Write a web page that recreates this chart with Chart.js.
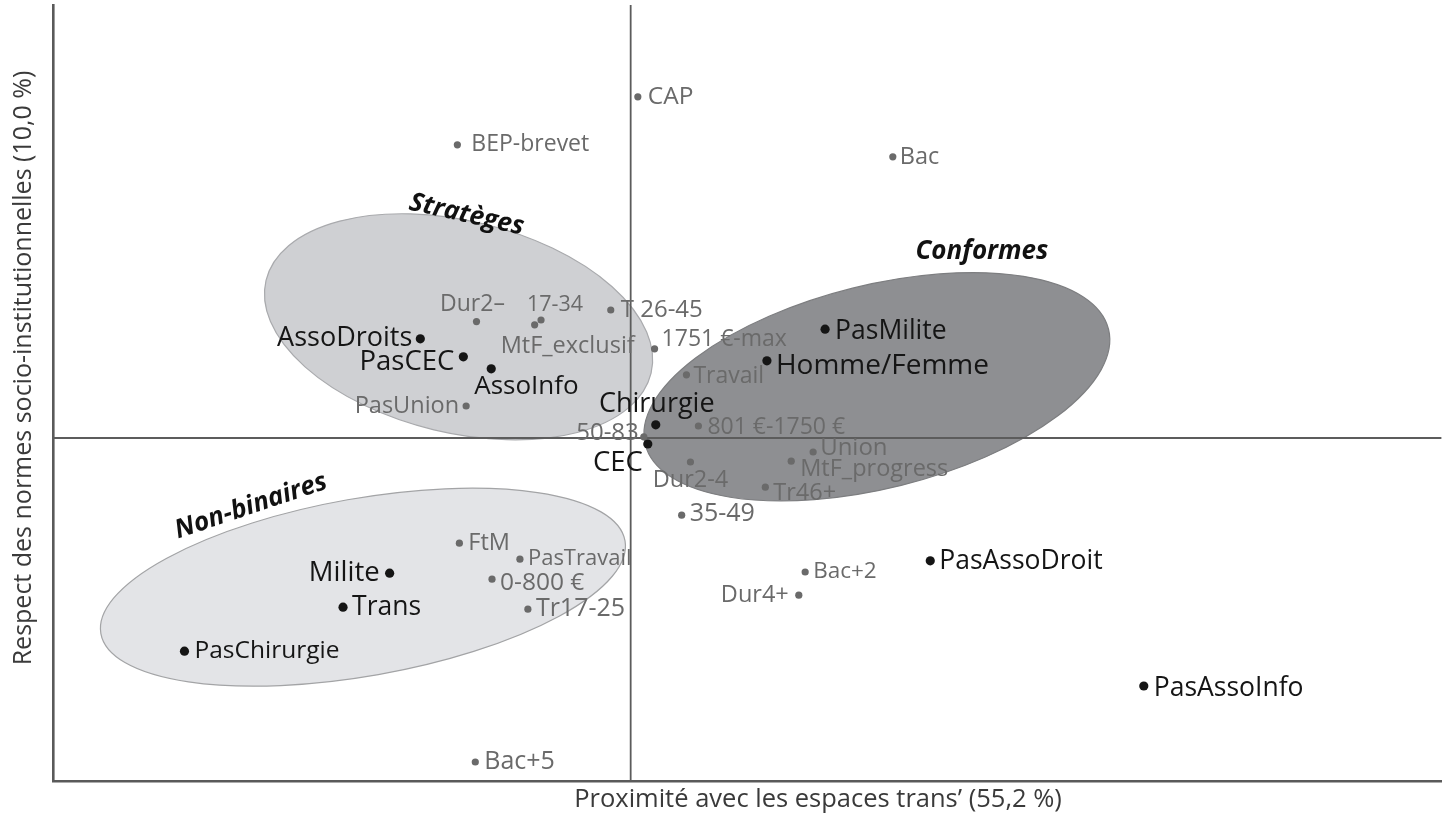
<!DOCTYPE html>
<html><head><meta charset="utf-8">
<script src="https://cdn.jsdelivr.net/npm/chart.js@4/dist/chart.umd.min.js"></script>
<style>html,body{margin:0;padding:0;background:#fff}#wrap{width:1446px;height:816px;position:relative}</style>
</head><body><div id="wrap"><canvas id="c"></canvas></div>
<script>
// ---- Active modalities (black) ----
const activeLabels = ['AssoDroits','PasCEC','AssoInfo','Chirurgie','CEC','PasMilite','Homme/Femme','PasAssoDroit','PasAssoInfo','Milite','Trans','PasChirurgie'];
const activeX = [-0.528, -0.420, -0.350, 0.063, 0.043, 0.488, 0.342, 0.752, 1.288, -0.605, -0.722, -1.120];
const activeY = [ 0.248,  0.203,  0.173, 0.033, -0.015, 0.272, 0.193, -0.307, -0.620, -0.338, -0.423, -0.533];

// ---- Supplementary modalities (grey) ----
const supLabels = ['CAP','BEP-brevet','Bac','Dur2–','17-34','MtF_exclusif','T 26-45','1751 €-max','PasUnion','Travail','801 €-1750 €','50-83','Union','MtF_progress','Dur2-4','Tr46+','35-49','FtM','PasTravail','0-800 €','Tr17-25','Bac+2','Dur4+','Bac+5'];
const supX = [0.018, -0.435, 0.658, -0.387, -0.225, -0.241, -0.050, 0.060, -0.413, 0.140, 0.170, 0.033, 0.458, 0.403, 0.150, 0.338, 0.128, -0.430, -0.278, -0.348, -0.258, 0.438, 0.422, -0.390];
const supY = [0.853, 0.733, 0.703, 0.291, 0.295, 0.283, 0.320, 0.223, 0.080, 0.158, 0.030, 0.003, -0.035, -0.058, -0.060, -0.123, -0.193, -0.263, -0.303, -0.353, -0.428, -0.335, -0.393, -0.810];

// ---- Groups (ellipses) ----
const groupNames = ['Conformes','Stratèges','Non-binaires'];
const groupCX = [0.618, -0.432, -0.672];
const groupCY = [0.128, 0.278, -0.373];
const groupA  = [0.599, 0.497, 0.668];
const groupB  = [0.254, 0.265, 0.222];
const groupAngle = [13.9, -13.5, 10.0]; // degrees, data space

// ---- Axis titles ----
const xTitle = 'Proximité avec les espaces trans’ (55,2 %)';
const yTitle = 'Respect des normes socio-institutionnelles (10,0 %)';

// ---- Styling (not data) ----
const FONT = '"Open Sans", "Noto Sans", sans-serif';
const groupStyle = {
  'Conformes':   {fill:'#8e8f92', stroke:'#7d7e80', label:{dx:105, dy:-135, rot:0}},
  'Stratèges':   {fill:'#cfd0d3', stroke:'#a9aaad', label:{dx:8, dy:-112, rot:12.5}},
  'Non-binaires':{fill:'#e3e4e7', stroke:'#a3a4a6', label:{dx:-112, dy:-81, rot:-18.5}}
};
// label placement: [textAlign, dx, dy, fontSize]
const place = {
  'AssoDroits':['right',-8,0,27], 'PasCEC':['right',-9,5,27.5], 'AssoInfo':['left',-17,18,26],
  'Chirurgie':['center',1,-20,27], 'CEC':['right',-5,19,27.5], 'PasMilite':['left',10,2,26.5],
  'Homme/Femme':['left',9,5,28], 'PasAssoDroit':['left',9,1,26.5], 'PasAssoInfo':['left',10,2,26.5],
  'Milite':['right',-10,0,27.5], 'Trans':['left',9,0,26.5], 'PasChirurgie':['left',10,0,24.5],
  'CAP':['left',10,0,24.5], 'BEP-brevet':['left',14,0,23], 'Bac':['left',7,1,23.5],
  'Dur2–':['center',-4,-17,23], '17-34':['center',14,-15,21.5], 'MtF_exclusif':['left',-34,22,23.5],
  'T 26-45':['left',10,0,24], '1751 €-max':['left',7,-9,23], 'PasUnion':['right',-7,0,23.5],
  'Travail':['left',7,2,23], '801 €-1750 €':['left',9,1,23], '50-83':['right',-5,-4,24],
  'Union':['left',7,-4,24], 'MtF_progress':['left',9,8,23.5], 'Dur2-4':['center',0,18,23.5],
  'Tr46+':['left',8,6,23.5], '35-49':['left',8,-1,25], 'FtM':['left',9,0,23.5],
  'PasTravail':['left',8,0,22], '0-800 €':['left',8,4,24.5], 'Tr17-25':['left',8,0,25],
  'Bac+2':['left',8,0,22.5], 'Dur4+':['right',-10,0,23.5], 'Bac+5':['left',9,0,25]
};

const toPts = (xs, ys, names) => xs.map((x,i)=>({x:x, y:ys[i], name:names[i]}));

const ellipsePlugin = {
  id:'ellipses',
  beforeDatasetsDraw(chart){
    const {ctx, scales:{x, y}} = chart;
    const sx = x.getPixelForValue(1) - x.getPixelForValue(0);
    const sy = y.getPixelForValue(0) - y.getPixelForValue(1);
    groupNames.forEach((g,i)=>{
      const st = groupStyle[g];
      ctx.save();
      ctx.beginPath();
      ctx.save();
      ctx.translate(x.getPixelForValue(groupCX[i]), y.getPixelForValue(groupCY[i]));
      ctx.scale(sx, -sy);
      ctx.rotate(groupAngle[i]*Math.PI/180);
      ctx.ellipse(0,0,groupA[i],groupB[i],0,0,Math.PI*2);
      ctx.restore();
      ctx.fillStyle = st.fill; ctx.fill();
      ctx.lineWidth = 1.2; ctx.strokeStyle = st.stroke; ctx.stroke();
      ctx.restore();
    });
    const ca = chart.chartArea;
    ctx.save();
    ctx.strokeStyle = '#5c5c5c'; ctx.lineWidth = 1.8;
    const x0 = x.getPixelForValue(0), y0 = y.getPixelForValue(0);
    ctx.beginPath(); ctx.moveTo(x0, ca.top); ctx.lineTo(x0, ca.bottom); ctx.stroke();
    ctx.beginPath(); ctx.moveTo(ca.left, y0); ctx.lineTo(ca.right, y0); ctx.stroke();
    ctx.restore();
    groupNames.forEach((g,i)=>{
      const L = groupStyle[g].label;
      ctx.save();
      ctx.translate(x.getPixelForValue(groupCX[i]) + L.dx, y.getPixelForValue(groupCY[i]) + L.dy);
      ctx.rotate(L.rot*Math.PI/180);
      ctx.font = 'italic 700 26px ' + FONT;
      ctx.fillStyle = '#111';
      ctx.textAlign = 'center'; ctx.textBaseline = 'middle';
      ctx.fillText(g, 0, 0);
      ctx.restore();
    });
  },
  afterDatasetsDraw(chart){
    const {ctx} = chart;
    chart.data.datasets.forEach((ds, di)=>{
      const meta = chart.getDatasetMeta(di);
      meta.data.forEach((el, j)=>{
        const name = ds.data[j].name;
        const p = place[name] || ['left',8,0,23];
        ctx.save();
        ctx.font = p[3] + 'px ' + FONT;
        ctx.fillStyle = di === 0 ? '#151515' : '#6a6a6a';
        ctx.textAlign = p[0]; ctx.textBaseline = 'middle';
        ctx.fillText(name, el.x + p[1], el.y + p[2]);
        ctx.restore();
      });
    });
    const ca = chart.chartArea;
    ctx.save();
    ctx.fillStyle = '#3a3a3a';
    ctx.font = '25.5px ' + FONT;
    ctx.textAlign = 'center'; ctx.textBaseline = 'middle';
    ctx.fillText(xTitle, 818, ca.bottom + 19);
    ctx.font = '25px ' + FONT;
    ctx.translate(24, 368);
    ctx.rotate(-Math.PI/2);
    ctx.fillText(yTitle, 0, 0);
    ctx.restore();
  }
};

new Chart(document.getElementById('c'), {
  type:'scatter',
  data:{datasets:[
    {data: toPts(activeX, activeY, activeLabels), pointRadius:4.6, pointBackgroundColor:'#151515', pointBorderWidth:0},
    {data: toPts(supX, supY, supLabels), pointRadius:3.6, pointBackgroundColor:'#6a6a6a', pointBorderWidth:0}
  ]},
  options:{
    responsive:true, maintainAspectRatio:false, animation:false,
    layout:{padding:{top:5, right:0, bottom:0, left:0}},
    plugins:{legend:{display:false}, tooltip:{enabled:false}},
    events:[],
    scales:{
      x:{type:'linear', min:-1.45, max:2.035, grid:{display:false, drawTicks:false},
         ticks:{display:false}, border:{display:true, color:'#5a5a5a', width:2.6},
         afterFit(s){ s.height = 35; }},
      y:{type:'linear', min:-0.8575, max:1.0825, grid:{display:false, drawTicks:false},
         ticks:{display:false}, border:{display:true, color:'#5a5a5a', width:2.6},
         afterFit(s){ s.width = 53; }}
    }
  },
  plugins:[ellipsePlugin]
});
</script></body></html>
